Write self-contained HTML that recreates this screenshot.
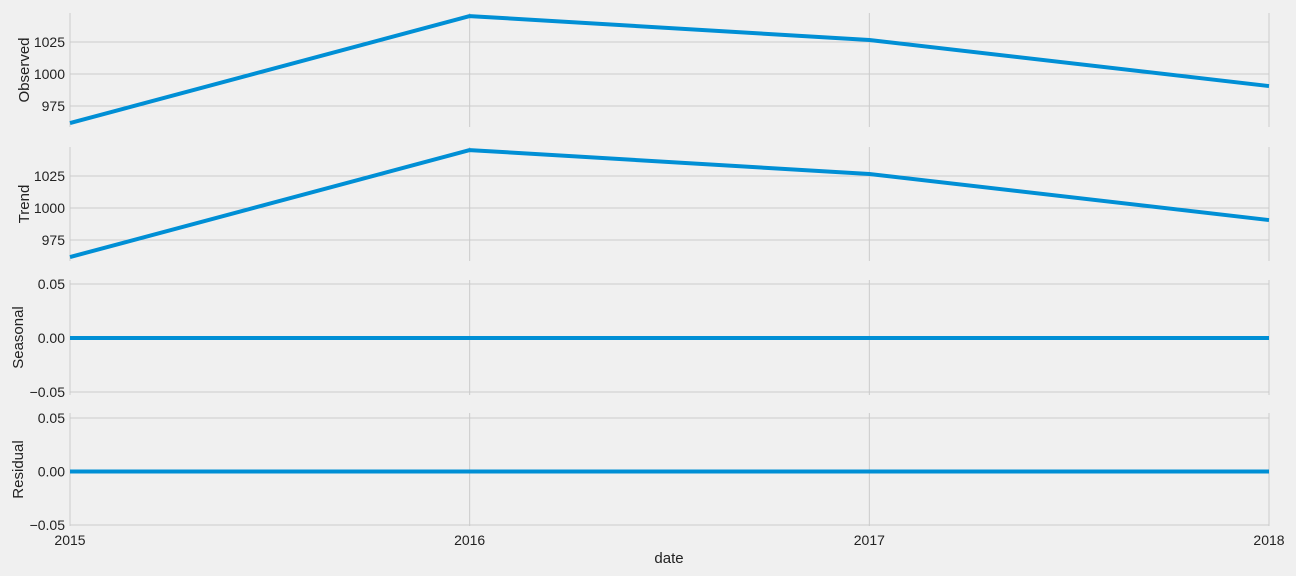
<!DOCTYPE html>
<html><head><meta charset="utf-8"><style>
html,body{margin:0;padding:0;background:#f0f0f0;}
svg{display:block;font-family:"Liberation Sans","DejaVu Sans",sans-serif;}
</style></head><body>
<svg id="chart" width="1296" height="576" viewBox="0 0 1296 576"></svg>
<script>
const years = [2015, 2016, 2017, 2018];
const observed = [961.7, 1045.3, 1026.6, 990.6];
const trend = [961.7, 1045.3, 1026.6, 990.6];
const seasonal = [0, 0, 0, 0];
const residual = [0, 0, 0, 0];
const levelTicks = [975, 1000, 1025];
const levelTickLabels = ["975", "1000", "1025"];
const zeroTicks = [-0.05, 0, 0.05];
const zeroTickLabels = ["\u22120.05", "0.00", "0.05"];

const NS = "http://www.w3.org/2000/svg";
const svg = document.getElementById("chart");
function mk(tag, attrs, parent) {
  const e = document.createElementNS(NS, tag);
  for (const k in attrs) e.setAttribute(k, attrs[k]);
  (parent || svg).appendChild(e);
  return e;
}
const X0 = 70, X1 = 1269;
function xs(v) { return X0 + (v - years[0]) / (years[years.length - 1] - years[0]) * (X1 - X0); }

const panels = [
  {name: "observed", label: "Observed", vals: observed, top: 13, bot: 127, min: 958.6, max: 1047.7, ticks: levelTicks, labels: levelTickLabels},
  {name: "trend", label: "Trend", vals: trend, top: 147, bot: 261, min: 958.6, max: 1047.7, ticks: levelTicks, labels: levelTickLabels},
  {name: "seasonal", label: "Seasonal", vals: seasonal, top: 280, bot: 395, min: -0.0528, max: 0.0537, ticks: zeroTicks, labels: zeroTickLabels},
  {name: "residual", label: "Residual", vals: residual, top: 413, bot: 526, min: -0.0509, max: 0.0547, ticks: zeroTicks, labels: zeroTickLabels}
];

panels.forEach(p => {
  const g = mk("g", {});
  
  
  const ys = v => p.bot - (v - p.min) / (p.max - p.min) * (p.bot - p.top);
  years.forEach(yv => {
    const l = mk("line", {x1: xs(yv), x2: xs(yv), y1: p.top, y2: p.bot, stroke: "#cbcbcb", "stroke-width": 1}, g);
    
    
  });
  p.ticks.forEach((t, i) => {
    const y = ys(t);
    const l = mk("line", {x1: X0, x2: X1, y1: y, y2: y, stroke: "#cbcbcb", "stroke-width": 1}, g);
    
    
    const tx = mk("text", {x: 65, y: y + 5, "text-anchor": "end", "font-size": 14, fill: "#222"}, g);
    tx.textContent = p.labels[i];
    
    
  });
  const pts = years.map((yv, i) => xs(yv) + "," + ys(p.vals[i])).join(" ");
  const pl = mk("polyline", {points: pts, fill: "none", stroke: "#008fd5", "stroke-width": 4, "stroke-linejoin": "round"}, g);
  
  
  const cy = (p.top + p.bot) / 2;
  const lab = mk("text", {x: 0, y: 0, transform: "translate(" + (p.name === "observed" || p.name === "trend" ? 29 : 23) + "," + cy + ") rotate(-90)", "text-anchor": "middle", "font-size": 15, fill: "#222"}, g);
  lab.textContent = p.label;
  
  
});

years.forEach(yv => {
  const t = mk("text", {x: xs(yv), y: 545, "text-anchor": "middle", "font-size": 14, fill: "#222"});
  t.textContent = String(yv);
  
  
});
const xt = mk("text", {x: 669, y: 563, "text-anchor": "middle", "font-size": 15, fill: "#222"});
xt.textContent = "date";


</script>
</body></html>
